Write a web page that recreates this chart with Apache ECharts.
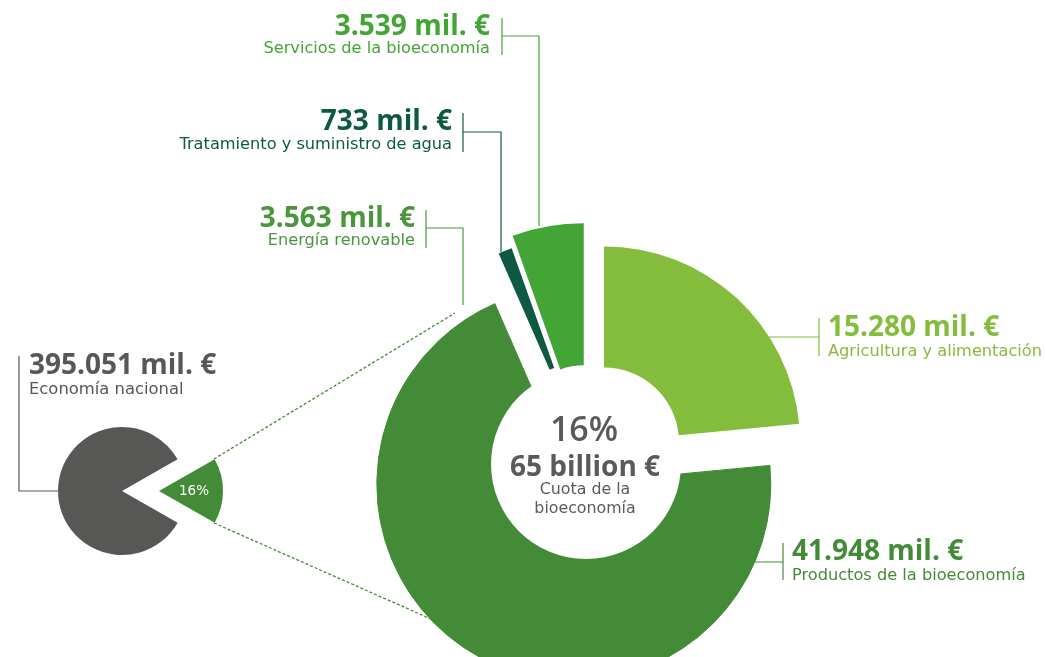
<!DOCTYPE html>
<html>
<head>
<meta charset="utf-8">
<script src="https://cdn.jsdelivr.net/npm/echarts@6/dist/echarts.min.js"></script>
<style>
html,body{margin:0;padding:0;background:#ffffff;}
#chart{width:1046px;height:657px;}
</style>
</head>
<body>
<div id="chart"></div>
<script>
// ---------- DATA ----------
const categories = [
  'Agricultura y alimentación',
  'Productos de la bioeconomía',
  'Energía renovable',
  'Tratamiento y suministro de agua',
  'Servicios de la bioeconomía'
];
const values = [15280, 41948, 3563, 733, 3539];   // mil. €
const nationalName = 'Economía nacional';
const nationalValue = 395051;                      // mil. €
const centerCaption = ['Cuota de la', 'bioeconomía'];
const unitText = ' mil. €';

// ---------- STYLE ----------
const colors = ['#84BC3C', '#448B37', '#448B37', '#0E5943', '#42A535'];
const labelColors = ['#84BC3C', '#448B37', '#4A953D', '#0E5943', '#42A535'];
const grey = '#575756';
const textGrey = '#5A5A5A';
const BOLD = '"Open Sans", "Noto Sans", sans-serif';
const REG = '"DejaVu Sans", "Open Sans", sans-serif';

// slice groups drawn together (same explode), explode distance and radii
const groups = [[0], [1, 2], [3], [4]];
const explode = [23.8, 28, 28, 25];
const radii = [[75, 196], [0, 197], [70, 197], [70, 212]];
const baseCenter = [588, 460];

// ---------- HELPERS ----------
const fmt = v => String(v).replace(/\B(?=(\d{3})+(?!\d))/g, '.');
const total = values.reduce((a, b) => a + b, 0);
const startAngle = 90;
const cum = [0];
values.forEach((v, i) => cum.push(cum[i] + v));
const angleAt = s => startAngle - 360 * s / total;   // clockwise

const mainSeries = groups.map((g, gi) => {
  const a0 = angleAt(cum[g[0]]);
  const a1 = angleAt(cum[g[g.length - 1] + 1]);
  const mid = (a0 + a1) / 2 * Math.PI / 180;
  const cx = baseCenter[0] + explode[gi] * Math.cos(mid);
  const cy = baseCenter[1] - explode[gi] * Math.sin(mid);
  const merged = g.length > 1;
  return {
    type: 'pie',
    center: [cx, cy],
    radius: radii[gi],
    startAngle: startAngle,
    clockwise: true,
    silent: true,
    z: 2,
    label: {show: false},
    labelLine: {show: false},
    emphasis: {disabled: true},
    data: values.map((v, i) => ({
      name: categories[i],
      value: v,
      itemStyle: g.includes(i)
        ? (merged ? {color: colors[i], borderColor: colors[i], borderWidth: 1} : {color: colors[i]})
        : {color: 'rgba(0,0,0,0)'}
    }))
  };
});

const share = total / nationalValue;
const smallSeries = {
  type: 'pie',
  center: [122, 491],
  radius: [0, 64],
  startAngle: share * 360 / 2,
  clockwise: true,
  silent: true,
  selectedMode: 'multiple',
  selectedOffset: 37,
  emphasis: {disabled: true},
  labelLine: {show: false},
  data: [
    {name: 'Bioeconomía', value: total, selected: true,
     itemStyle: {color: '#448B37'},
     select: {itemStyle: {color: '#448B37'}},
     label: {show: true, position: 'inside', formatter: Math.round(share * 100) + '%',
             color: '#ffffff', fontFamily: REG, fontSize: 13.5, offset: [10, 0]}},
    {name: nationalName, value: nationalValue - total,
     itemStyle: {color: grey}, label: {show: false}}
  ]
};

// ---------- LABELS / LEADERS ----------
// [valueX, valueY, align, subY]
const labelPos = [
  [828, 328, 'left', 352],
  [792, 552, 'left', 576],
  [415, 219, 'right', 241],
  [452, 122, 'right', 145],
  [490, 27, 'right', 49]
];
const leaders = [
  {bar: [819, 318, 356], line: [[769, 337], [819, 337]]},
  {bar: [783, 543, 580], line: [[736, 562], [783, 562]]},
  {bar: [426, 210, 248], line: [[426, 228], [463, 228], [463, 305]]},
  {bar: [463, 113, 152], line: [[463, 132], [501, 132], [501, 252]]},
  {bar: [502, 18, 55],  line: [[502, 36], [539, 36], [539, 226]]}
];

const elements = [];
categories.forEach((c, i) => {
  const p = labelPos[i];
  elements.push({
    type: 'text', z: 20,
    style: {text: fmt(values[i]) + unitText, x: p[0], y: p[1], align: p[2], verticalAlign: 'middle',
            fill: labelColors[i], font: '700 28px ' + BOLD}
  });
  elements.push({
    type: 'text', z: 20,
    style: {text: c, x: p[0], y: p[3], align: p[2], verticalAlign: 'middle',
            fill: labelColors[i], font: '400 16.2px ' + REG}
  });
  const L = leaders[i];
  elements.push({type: 'line', z: 0, shape: {x1: L.bar[0], y1: L.bar[1], x2: L.bar[0], y2: L.bar[2]},
                 style: {stroke: labelColors[i], lineWidth: 1.2}});
  elements.push({type: 'polyline', z: 0, shape: {points: L.line},
                 style: {stroke: labelColors[i], lineWidth: 1.2, fill: null}});
});

// national economy label
elements.push({type: 'text', z: 20, style: {text: fmt(nationalValue) + unitText, x: 29, y: 366, align: 'left',
  verticalAlign: 'middle', fill: grey, font: '700 28px ' + BOLD}});
elements.push({type: 'text', z: 20, style: {text: nationalName, x: 29, y: 390, align: 'left',
  verticalAlign: 'middle', fill: grey, font: '400 16.4px ' + REG}});
elements.push({type: 'polyline', z: 0, shape: {points: [[58, 491], [19, 491], [19, 356]]},
  style: {stroke: grey, lineWidth: 1.2, fill: null}});

// dashed connectors
elements.push({type: 'line', z: 0, shape: {x1: 214, y1: 459, x2: 455, y2: 313},
  style: {stroke: '#448B37', lineWidth: 1.3, lineDash: [3, 2]}});
elements.push({type: 'line', z: 0, shape: {x1: 214, y1: 523, x2: 492, y2: 646},
  style: {stroke: '#448B37', lineWidth: 1.3, lineDash: [3, 2]}});

// center disc and texts
elements.push({type: 'circle', z: 10, shape: {cx: 586, cy: 464, r: 95}, style: {fill: '#ffffff'}});
elements.push({type: 'text', z: 20, style: {text: Math.round(share * 100) + '%', x: 584, y: 431, align: 'center',
  verticalAlign: 'middle', fill: textGrey, font: '600 34px ' + BOLD}});
elements.push({type: 'text', z: 20, style: {text: Math.round(total / 1000) + ' billion €', x: 585, y: 468, align: 'center',
  verticalAlign: 'middle', fill: textGrey, font: '700 28px ' + BOLD}});
elements.push({type: 'text', z: 20, style: {text: centerCaption[0], x: 585, y: 490, align: 'center',
  verticalAlign: 'middle', fill: textGrey, font: '400 15.8px ' + REG}});
elements.push({type: 'text', z: 20, style: {text: centerCaption[1], x: 585, y: 509, align: 'center',
  verticalAlign: 'middle', fill: textGrey, font: '400 15.8px ' + REG}});

const chart = echarts.init(document.getElementById('chart'), null, {renderer: 'canvas'});
chart.setOption({
  backgroundColor: '#ffffff',
  animation: false,
  series: [smallSeries].concat(mainSeries),
  graphic: {elements: elements}
});
</script>
</body>
</html>
